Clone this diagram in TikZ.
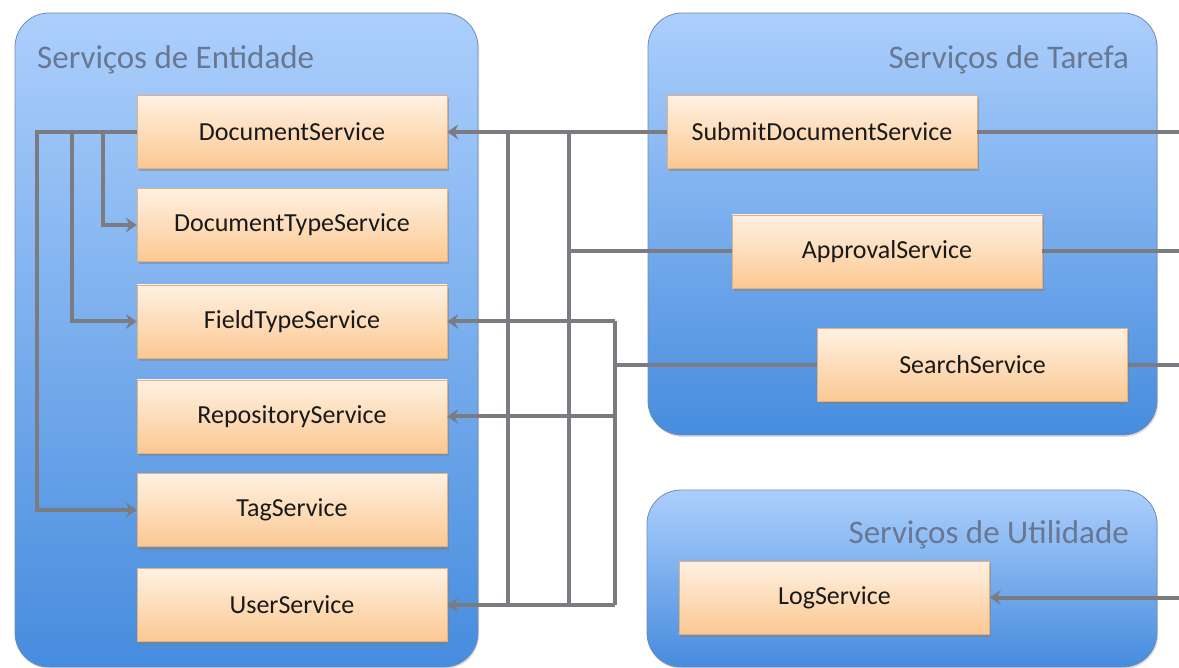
\documentclass[tikz,border=0pt]{standalone}
\usepackage{fontspec}
\setmainfont{Carlito}
\usetikzlibrary{arrows.meta,shadows}
\definecolor{boxtop}{RGB}{255,241,226}
\definecolor{boxbot}{RGB}{251,200,146}
\definecolor{boxline}{RGB}{230,176,126}
\definecolor{contop}{RGB}{172,207,252}
\definecolor{conbot}{RGB}{70,140,222}
\definecolor{conline}{RGB}{112,140,182}
\definecolor{titlecol}{RGB}{104,120,146}
\definecolor{linecol}{RGB}{122,124,130}
\begin{document}
\begin{tikzpicture}[x=1pt,y=-1pt,
  svc/.style={draw=boxline, line width=0.6pt, top color=boxtop, bottom color=boxbot,
    minimum width=310pt, minimum height=73pt, inner sep=0pt,
    font=\fontsize{26}{30}\selectfont, text=black!90,
    drop shadow={shadow xshift=1.5pt, shadow yshift=-3pt, opacity=0.5}},
  cont/.style={draw=conline, line width=0.8pt, rounded corners=34pt,
    top color=contop, bottom color=conbot, inner sep=0pt,
    drop shadow={shadow xshift=1pt, shadow yshift=-2pt, opacity=0.25}},
  ttl/.style={font=\fontsize{33}{38}\selectfont, text=titlecol, inner sep=0pt},
  wire/.style={draw=linecol, line width=4pt},
  arr/.style={wire, -{Stealth[length=11pt,width=15pt,inset=4pt]}}
]
\useasboundingbox (0,0) rectangle (1179,668);
\fill[white] (0,0) rectangle (1179,668);

% containers
\node[cont, minimum width=463pt, minimum height=654pt] (ent) at (246.5,340) {};
\node[cont, minimum width=509pt, minimum height=422pt] (task) at (902.5,224) {};
\node[cont, minimum width=510pt, minimum height=177pt] (util) at (902,578.5) {};

\node[ttl, anchor=base west] (tent) at (37,69) {Serviços de Entidade};
\node[ttl, anchor=base east] (ttask) at (1129,69) {Serviços de Tarefa};
\node[ttl, anchor=base east] (tutil) at (1129,543) {Serviços de Utilidade};

% coordinates for wiring
\coordinate (l1) at (37,132);
\coordinate (l2) at (72,132);
\coordinate (l3) at (103,132);
\coordinate (a1t) at (508,132);
\coordinate (a1b) at (508,605);
\coordinate (a2t) at (569,132);
\coordinate (a2m) at (569,251.5);
\coordinate (a2b) at (569,605);
\coordinate (a3t) at (615,321.5);
\coordinate (a3m) at (615,365);
\coordinate (a3r) at (615,416.5);
\coordinate (a3b) at (615,605);
\coordinate (r1) at (1179,132);
\coordinate (r2) at (1179,251.5);
\coordinate (r3) at (1179,365);
\coordinate (r4) at (1179,597.5);

% service nodes
\node[svc] (ds)  at (292,132)   {DocumentService};
\node[svc] (dts) at (292,225)   {DocumentTypeService};
\node[svc] (fts) at (292,321.5) {FieldTypeService};
\node[svc] (rs)  at (292,416.5) {RepositoryService};
\node[svc] (tgs) at (292,510)   {TagService};
\node[svc] (us)  at (292,605)   {UserService};

\node[svc] (sds) at (822,132)   {SubmitDocumentService};
\node[svc] (aps) at (887,251.5) {ApprovalService};
\node[svc] (ses) at (972.5,365) {SearchService};
\node[svc] (lgs) at (834.5,597.5) {LogService};

% internal entity wiring
\draw[arr] (ds.west) -- (l1) |- (tgs.west);
\draw[arr] (l2) |- (fts.west);
\draw[arr] (l3) |- (dts.west);

% task -> entity wiring
\draw[arr] (sds.west) -- (ds.east);
\draw[wire] (a1t) -- (a1b);
\draw[wire] (aps.west) -- (a2m);
\draw[wire] (a2t) -- (a2b);
\draw[wire] (ses.west) -- (a3m);
\draw[wire] (a3t) -- (a3b);
\draw[arr] (a3t) -- (fts.east);
\draw[arr] (a3r) -- (rs.east);
\draw[arr] (a3b) -- (us.east);

% wiring to the right edge
\draw[wire] (sds.east) -- (r1);
\draw[wire] (aps.east) -- (r2);
\draw[wire] (ses.east) -- (r3);
\draw[arr] (r4) -- (lgs.east);
\end{tikzpicture}
\end{document}
